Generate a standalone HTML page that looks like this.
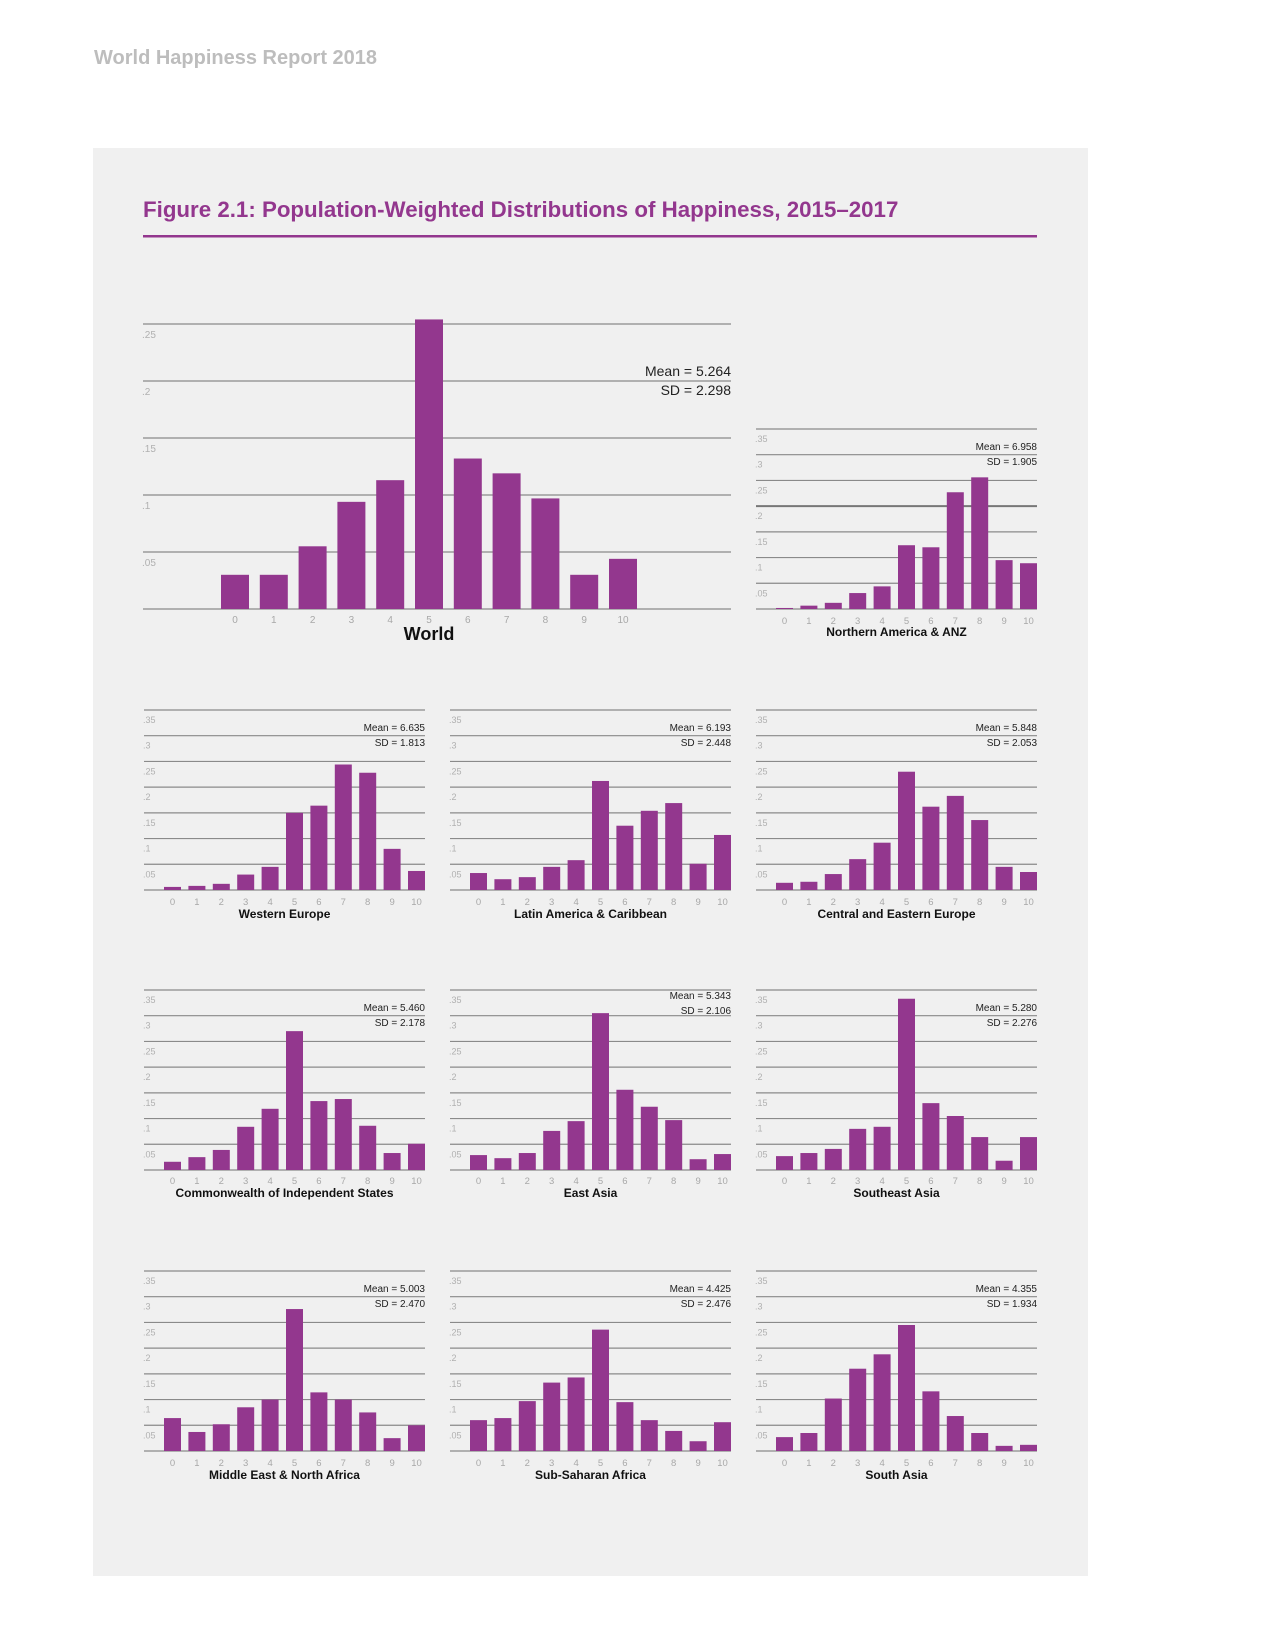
<!DOCTYPE html>
<html><head><meta charset="utf-8"><style>
html,body{margin:0;padding:0;background:#fff;}
svg{display:block;font-family:"Liberation Sans",sans-serif;}
</style></head><body>
<svg id="page" width="1275" height="1650" viewBox="0 0 1275 1650" xmlns="http://www.w3.org/2000/svg">
<text x="94" y="64" font-size="20" font-weight="bold" fill="#bdbdbd">World Happiness Report 2018</text>
<rect x="93" y="148" width="995" height="1428" fill="#f0f0f0"/>
<text x="143" y="217" font-size="22.3" font-weight="bold" fill="#93378e">Figure 2.1: Population-Weighted Distributions of Happiness, 2015–2017</text>
<rect x="143" y="235" width="894" height="2.5" fill="#93378e"/>
<g id="charts"></g>
</svg>
<script>
const categories = [0,1,2,3,4,5,6,7,8,9,10];
const worldValues = [0.030,0.030,0.055,0.094,0.113,0.254,0.132,0.119,0.097,0.030,0.044];
const naValues = [0.002,0.0065,0.012,0.031,0.044,0.124,0.120,0.227,0.256,0.095,0.089];
const weValues = [0.006,0.008,0.012,0.030,0.045,0.150,0.164,0.244,0.228,0.080,0.037];
const laValues = [0.033,0.021,0.025,0.045,0.058,0.212,0.125,0.154,0.169,0.051,0.107];
const ceeValues = [0.014,0.016,0.031,0.060,0.092,0.230,0.162,0.183,0.136,0.045,0.035];
const cisValues = [0.016,0.025,0.039,0.084,0.119,0.270,0.134,0.138,0.086,0.033,0.051];
const eaValues = [0.029,0.023,0.033,0.076,0.095,0.305,0.156,0.123,0.097,0.021,0.031];
const seaValues = [0.027,0.033,0.041,0.080,0.084,0.333,0.130,0.105,0.064,0.018,0.064];
const menaValues = [0.064,0.037,0.052,0.085,0.100,0.276,0.114,0.100,0.075,0.025,0.050];
const ssaValues = [0.060,0.064,0.097,0.133,0.143,0.236,0.095,0.060,0.039,0.019,0.056];
const saValues = [0.027,0.035,0.102,0.160,0.188,0.245,0.116,0.068,0.035,0.010,0.012];
const smallTicks = [0.05,0.1,0.15,0.2,0.25,0.3,0.35];
const smallTickLabels = [".05",".1",".15",".2",".25",".3",".35"];
const worldTicks = [0.05,0.1,0.15,0.2,0.25];
const worldTickLabels = [".05",".1",".15",".2",".25"];
const regionNames = ["Northern America & ANZ","Western Europe","Latin America & Caribbean","Central and Eastern Europe","Commonwealth of Independent States","East Asia","Southeast Asia","Middle East & North Africa","Sub-Saharan Africa","South Asia"];
const regionMeans = ["6.958","6.635","6.193","5.848","5.460","5.343","5.280","5.003","4.425","4.355"];
const regionSDs = ["1.905","1.813","2.448","2.053","2.178","2.106","2.276","2.470","2.476","1.934"];

const NS="http://www.w3.org/2000/svg";
const root=document.getElementById('charts');
function el(tag,attrs,parent,text){const e=document.createElementNS(NS,tag);for(const k in attrs)e.setAttribute(k,attrs[k]);if(text!==undefined)e.textContent=text;parent.appendChild(e);return e;}

function drawChart(o){
  const g=el('g',{},root);
  
  
  const y=v=>o.base-v*o.scale;
  const x=i=>o.bar0+i*o.step;
  const bl=el('line',{x1:o.x0,x2:o.x1,y1:o.base,y2:o.base,stroke:'#8a8a8a','stroke-width':1.2},g);
  
  
  o.ticks.forEach((t,i)=>{
    const ln=el('line',{x1:o.x0,x2:o.x1,y1:y(t),y2:y(t),stroke:(o.thick===t?'#777':'#8a8a8a'),'stroke-width':(o.thick===t?2:1.2)},g);
    
    
    const tl=el('text',{x:o.x0-1,y:y(t)+o.tickFs+4,'font-size':o.tickFs,fill:'#b0b0b0'},g,o.tickLabels[i]);
    
    
  });
  o.values.forEach((v,i)=>{
    const r=el('rect',{x:x(i),y:y(v),width:o.bw,height:v*o.scale,fill:'#93378e'},g);
    
    
    const lt=el('text',{x:x(i)+o.bw/2,y:o.tickY,'font-size':o.xFs,fill:'#a8a8a8','text-anchor':'middle'},g,String(categories[i]));
    
    
  });
  const m=el('text',{x:o.x1,y:o.meanY,'font-size':o.statFs,fill:'#222','text-anchor':'end'},g,'Mean = '+o.mean);
  
  
  const s=el('text',{x:o.x1,y:o.meanY+o.statGap,'font-size':o.statFs,fill:'#222','text-anchor':'end'},g,'SD = '+o.sd);
  
  
  const t=el('text',{x:o.titleX!==undefined?o.titleX:(o.x0+o.x1)/2,y:o.titleY,'font-size':o.titleFs,'font-weight':'bold',fill:'#111','text-anchor':'middle'},g,o.title);
  
  
}

drawChart({name:'world',x0:143,x1:731,base:609,scale:1140,bar0:221,step:38.8,bw:28,ticks:worldTicks,tickLabels:worldTickLabels,tickFs:10,xFs:10,tickY:623,values:worldValues,mean:'5.264',sd:'2.298',meanY:376,statGap:19,statFs:14,title:'World',titleX:429,titleY:640,titleFs:18});

const colX=[144,450,756];
const rows=[{base:890,tickY:905,titleY:918,meanY:731},{base:1170,tickY:1184,titleY:1197,meanY:1011},{base:1451,tickY:1466,titleY:1479,meanY:1292}];
const smallSeries=[naValues,weValues,laValues,ceeValues,cisValues,eaValues,seaValues,menaValues,ssaValues,saValues];
const slugs=['northern-america-anz','western-europe','latin-america','central-eastern-europe','cis','east-asia','southeast-asia','mena','sub-saharan-africa','south-asia'];
smallSeries.forEach((vals,k)=>{
  let pos;
  if(k===0) pos={x0:756,base:609,tickY:624,titleY:636,meanY:450};
  else {const r=rows[Math.floor((k-1)/3)];pos=Object.assign({x0:colX[(k-1)%3]},r);}
  if(k===5) pos.meanY=999;
  drawChart({name:slugs[k],x0:pos.x0,x1:pos.x0+281,base:pos.base,scale:514.3,bar0:pos.x0+20,step:24.4,bw:17,ticks:smallTicks,tickLabels:smallTickLabels,tickFs:9,xFs:9.5,tickY:pos.tickY,values:vals,mean:regionMeans[k],sd:regionSDs[k],meanY:pos.meanY,statGap:15,statFs:10,title:regionNames[k],titleY:pos.titleY,titleFs:12,thick:(k===0?0.2:null)});
});
</script>
</body></html>
